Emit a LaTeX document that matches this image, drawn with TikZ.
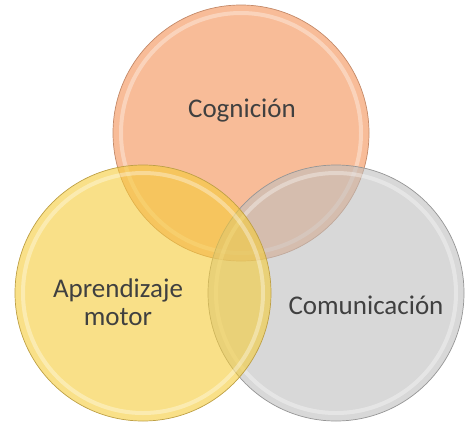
\documentclass[tikz,border=0pt]{standalone}
\usepackage{fontspec}
\setmainfont{Carlito}
\definecolor{orangeC}{RGB}{248,188,152}
\definecolor{orangeE}{RGB}{196,138,105}
\definecolor{grayC}{RGB}{190,190,190}
\definecolor{grayE}{RGB}{150,150,150}
\definecolor{yellowC}{RGB}{245,204,56}
\definecolor{yellowE}{RGB}{190,160,70}
\definecolor{labelgray}{RGB}{64,64,64}
\begin{document}
\begin{tikzpicture}[x=1pt,y=-1pt]
\useasboundingbox (0,0) rectangle (465,423);
\tikzset{
  venn/.style={circle, minimum size=256pt, inner sep=0pt, line width=0.7pt},
  rim/.style={draw=white, line width=4pt, draw opacity=0.35},
  lbl/.style={text=labelgray, font=\fontsize{27}{28}\selectfont, align=center}
}
\node[venn, fill=orangeC, draw=orangeE] (cog) at (241,133) {};
\draw[rim] (cog.center) circle[radius=120pt];
\node[venn, fill=grayC, fill opacity=0.6, draw=grayE] (com) at (336,293) {};
\draw[rim] (com.center) circle[radius=120pt];
\node[venn, fill=yellowC, fill opacity=0.6, draw=yellowE] (apr) at (143,293) {};
\draw[rim] (apr.center) circle[radius=120pt];
\node[lbl] (tcog) at (242,111) {Cognición};
\node[lbl] (tapr) at (118,302) {Aprendizaje\\motor};
\node[lbl] (tcom) at (366,305) {Comunicación};
\end{tikzpicture}
\end{document}
